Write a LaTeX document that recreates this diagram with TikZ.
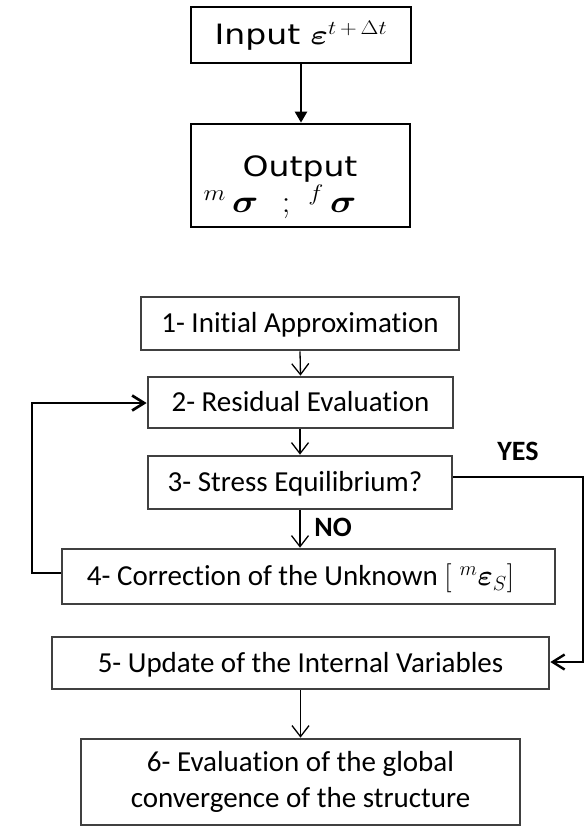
\RequirePackage{fix-cm}
\documentclass[tikz,border=0pt]{standalone}
\usepackage{amsmath}
\usepackage{bm}
\usepackage[no-math]{fontspec}
\setmainfont[RawFeature={-liga;-clig;-dlig;-calt;-rlig}]{Carlito}
\newfontfamily\dejavu{DejaVu Sans}
\usetikzlibrary{arrows.meta}
\definecolor{boxgray}{RGB}{64,64,64}
\newcommand\fsA{\fontsize{29}{36}\selectfont}
\newcommand\fsT{\fontsize{28}{36}\selectfont}
\tikzset{
  graybox/.style={draw=boxgray, line width=2.7pt, inner sep=0pt, font=\fsA,
    text height=18.7pt, text depth=0pt, fill=white},
  multibox/.style={draw=boxgray, line width=2.7pt, inner sep=0pt, font=\fsA, align=center},
  topbox/.style={draw=black, line width=2.7pt, inner sep=0pt, font=\fsT\dejavu},
  thinarrow/.style={line width=1.3pt, -{Straight Barb[length=11pt,width=17pt]}},
  looparrow/.style={line width=2.7pt, line join=miter, -{Straight Barb[length=12pt,width=15pt]}},
  toparrow/.style={line width=2.4pt, -{Triangle[length=11pt,width=12pt]}},
  lbl/.style={font=\fontsize{28}{34}\selectfont\bfseries, inner sep=0pt, text height=18pt, text depth=0pt}
}
\begin{document}
\begin{tikzpicture}[x=1pt,y=-1pt]
\useasboundingbox (0,0) rectangle (584,826);

% top part
\node[topbox, minimum width=220pt, minimum height=56pt, text height=20pt, text depth=0pt] (inp) at (301,35)
  {\scalebox{1.18}[1]{Input $\bm{\varepsilon}^{t\mkern3mu+\mkern3mu\Delta t}$}};
\node[topbox, minimum width=219pt, minimum height=103pt] (outp) at (300.5,175.5) {};
\node[font=\fsT\dejavu, align=center, inner sep=0pt] (outt) at (300,187)
  {\scalebox{1.18}[1]{Output}\\
   \scalebox{1.3}[1.15]{${}^{m}\,\bm{\sigma}\ \ ;\ {}^{f}\,\bm{\sigma}$}\rule{40pt}{0pt}};
\draw[toparrow] (inp.south) -- (inp.south |- outp.north);

% flowchart
\node[graybox, minimum width=318pt, minimum height=53pt] (b1) at (300,323.5) {1- Initial Approximation};
\node[graybox, minimum width=305pt, minimum height=51pt] (b2) at (300.5,402.5) {2- Residual Evaluation};
\node[graybox, minimum width=304pt, minimum height=53pt] (b3) at (300,482.5) {3- Stress Equilibrium?\rule{10pt}{0pt}};
\node[graybox, minimum width=493pt, minimum height=55pt] (b4) at (308.5,576.5)
  {4- Correction of the Unknown $[\;{}^{m}\bm{\varepsilon}_{S}]$\rule{16pt}{0pt}};
\node[graybox, minimum width=497pt, minimum height=52pt] (b5) at (300.5,663) {5- Update of the Internal Variables};
\node[multibox, minimum width=439pt, minimum height=86pt] (b6) at (300.5,782)
  {6- Evaluation of the global\\convergence of the structure};

\draw[thinarrow] (b1.south) -- (b2.north);
\draw[thinarrow] (b2.south -| b3.north) -- (b3.north);
\draw[thinarrow] (b3.south) -- (b3.south |- b4.north);
\draw[thinarrow] (b5.south) -- (b6.north);

\node[lbl] (no) at (333,527) {NO};
\node[lbl] (yes) at (518,451) {YES};

% loop back
\coordinate (lpA) at (32,573);
\coordinate (lpB) at (32,403);
\draw[looparrow] (b4.west |- lpA) -- (lpA) -- (lpB) -- (lpB -| b2.west);

% yes branch
\coordinate (yA) at (583,477);
\coordinate (yB) at (583,662);
\draw[looparrow, line width=2.4pt] (b3.east |- yA) -- (yA) -- (yB) -- (yB -| b5.east);
\end{tikzpicture}
\end{document}
